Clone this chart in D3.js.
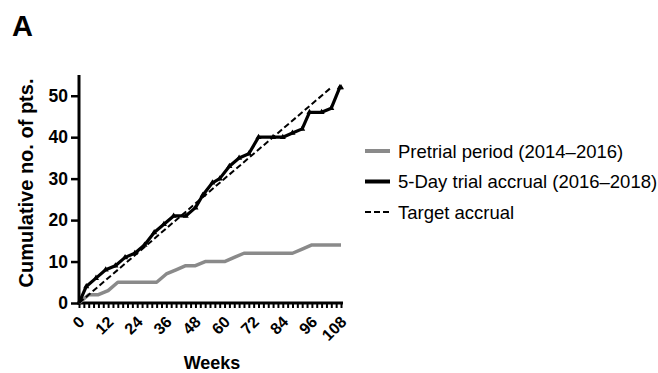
<!DOCTYPE html>
<meta charset="utf-8">
<style>
    body { margin: 0; background: #fff; }
    text { font-family: "Liberation Sans", Arial, Helvetica, sans-serif; }
    .axis path, .axis line { stroke: #000; }
</style>
<body>
<svg width="658" height="373"></svg>
<script src="https://d3js.org/d3.v7.min.js"></script>
<script>
    // pretrial period (2014-2016): [week, cumulative pts]
    const pretrialWeeks = [0, 4, 8, 12, 16, 20, 24, 28, 32, 36, 40, 44, 48, 52, 56, 60, 64, 68, 72, 76, 80, 84, 88, 92, 96, 100, 104, 108];
    const pretrialPts   = [0, 2, 2, 3, 5, 5, 5, 5, 5, 7, 8, 9, 9, 10, 10, 10, 11, 12, 12, 12, 12, 12, 12, 13, 14, 14, 14, 14];

    // 5-day trial accrual (2016-2018)
    const trialWeeks = [0, 3, 7, 11, 15, 19, 23, 27, 31, 35, 39, 44, 48, 51, 55, 58, 62, 66, 70, 74, 80, 84, 88, 92, 95, 100, 104, 107.5, 108];
    const trialPts   = [0, 4, 6, 8, 9, 11, 12, 14, 17, 19, 21, 21, 23, 26, 29, 30, 33, 35, 36, 40, 40, 40, 41, 42, 46, 46, 47, 52, 52];

    // target accrual
    const targetWeeks = [0, 104];
    const targetPts   = [0, 52];

    const xTicks = d3.range(0, 109, 2);
    const yTicks = [0, 10, 20, 30, 40, 50];
    const legendLabels = ["Pretrial period (2014\u20132016)", "5-Day trial accrual (2016\u20132018)", "Target accrual"];

    const svg = d3.select("svg");
    const x = d3.scaleLinear().domain([0, 108]).range([79, 341]);
    const y = d3.scaleLinear().domain([0, 55]).range([303, 75]);

    const zip = (xs, ys) => xs.map((w, i) => [w, ys[i]]);
    const line = d3.line().x(d => x(d[0])).y(d => y(d[1]));

    // axes
    const xAxis = svg.append("g")
        .attr("class", "axis")
        .attr("transform", "translate(0," + y(0) + ")")
        .call(d3.axisBottom(x).tickValues(xTicks).tickSizeOuter(0).tickSize(5)
            .tickFormat(d => d % 12 === 0 ? d : ""));
    xAxis.select(".domain").attr("stroke-width", 3).attr("d", "M" + (x(0) - 1.5) + ",0H" + (x(108) + 2));
    xAxis.selectAll(".tick line").attr("stroke-width", 2);
    xAxis.selectAll("text")
        .attr("x", 0).attr("y", 0).attr("dy", "0.35em")
        .attr("transform", "translate(2,16) rotate(-45)")
        .attr("text-anchor", "end")
        .style("font-size", "16px").style("font-weight", "bold").attr("fill", "#000");

    const yAxis = svg.append("g")
        .attr("class", "axis")
        .attr("transform", "translate(" + x(0) + ",0)")
        .call(d3.axisLeft(y).tickValues(yTicks).tickSizeOuter(0).tickSize(8).tickPadding(3));
    yAxis.select(".domain").attr("stroke-width", 3).attr("d", "M0," + (y(0) + 1.5) + "V" + y(55));
    yAxis.selectAll(".tick line").attr("stroke-width", 2.5);
    yAxis.selectAll("text")
        .style("font-size", "17.5px").style("font-weight", "bold").attr("fill", "#000");

    // series
    svg.append("path")
        .datum(zip(pretrialWeeks, pretrialPts))
        .attr("d", line).attr("fill", "none")
        .attr("stroke", "#8a8a8a").attr("stroke-width", 3.5).attr("stroke-linejoin", "round");

    svg.append("path")
        .datum(zip(targetWeeks, targetPts))
        .attr("d", line).attr("fill", "none")
        .attr("stroke", "#000").attr("stroke-width", 2).attr("stroke-dasharray", "6,3");

    const trial = zip(trialWeeks, trialPts);
    svg.append("path")
        .datum(trial)
        .attr("d", line).attr("fill", "none")
        .attr("stroke", "#000").attr("stroke-width", 3.2).attr("stroke-linejoin", "round");

    // small markers on the trial line
    svg.append("g").selectAll("path")
        .data(trial.slice(1))
        .join("path")
        .attr("transform", d => "translate(" + x(d[0]) + "," + y(d[1]) + ")")
        .attr("d", d3.symbol(d3.symbolTriangle, 16))
        .attr("fill", "#000");

    // titles
    svg.append("text")
        .attr("x", 12).attr("y", 36)
        .style("font-size", "29px").style("font-weight", "bold")
        .text("A");

    svg.append("text")
        .attr("x", 212).attr("y", 369)
        .attr("text-anchor", "middle")
        .style("font-size", "18px").style("font-weight", "bold")
        .text("Weeks");

    svg.append("text")
        .attr("transform", "translate(33,183) rotate(-90)")
        .attr("text-anchor", "middle")
        .style("font-size", "20px").style("font-weight", "bold")
        .text("Cumulative no. of pts.");

    // legend
    const legend = svg.append("g").attr("transform", "translate(365,151)");
    const legendStyles = [
        { stroke: "#8a8a8a", width: 4, dash: null },
        { stroke: "#000", width: 4, dash: null },
        { stroke: "#000", width: 2, dash: "6,3" }
    ];
    legendLabels.forEach((lab, i) => {
        const g = legend.append("g").attr("transform", "translate(0," + i * 30.5 + ")");
        g.append("line")
            .attr("x1", 0).attr("x2", 25).attr("y1", 0).attr("y2", 0)
            .attr("stroke", legendStyles[i].stroke)
            .attr("stroke-width", legendStyles[i].width)
            .attr("stroke-dasharray", legendStyles[i].dash);
        g.append("text")
            .attr("x", 33).attr("y", 0).attr("dy", "0.36em")
            .style("font-size", "18.5px")
            .text(lab);
    });
</script>
</body>
